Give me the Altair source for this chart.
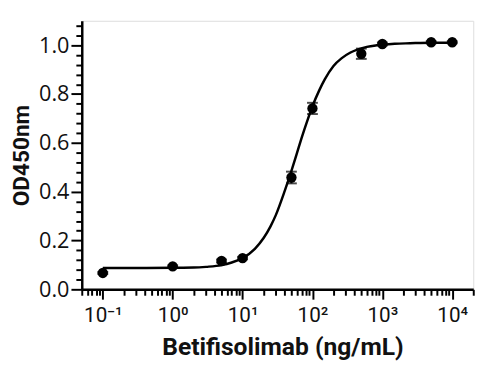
import altair as alt
import pandas as pd

# measured points
conc = [0.1, 1, 5, 10, 50, 100, 500, 1000, 5000, 10000]
od = [0.067, 0.094, 0.116, 0.128, 0.458, 0.741, 0.965, 1.005, 1.012, 1.012]
sd = [0.004, 0.004, 0.006, 0.005, 0.024, 0.023, 0.021, 0.006, 0.004, 0.004]

# fitted curve
curve_x = [0.1, 0.3, 1, 2, 3, 5, 7, 10, 15, 20, 25, 30, 40, 50, 60, 70, 85, 100,
           125, 150, 200, 260, 350, 450, 600, 800, 1000, 1500, 2500, 5000, 10000]
curve_y = [0.087, 0.087, 0.088, 0.089, 0.092, 0.099, 0.110, 0.128, 0.166, 0.210,
           0.257, 0.305, 0.402, 0.485, 0.558, 0.620, 0.693, 0.750, 0.815, 0.860,
           0.915, 0.946, 0.970, 0.983, 0.993, 0.999, 1.002, 1.006, 1.008, 1.010, 1.010]

# axis ticks
x_major = [0.1, 1, 10, 100, 1000, 10000]
x_labels = ["10\u207b\u00b9", "10\u2070", "10\u00b9", "10\u00b2", "10\u00b3", "10\u2074"]
x_minor = [0.05, 0.06, 0.07, 0.08, 0.09,
           0.2, 0.3, 0.4, 0.5, 0.6, 0.7, 0.8, 0.9,
           2, 3, 4, 5, 6, 7, 8, 9,
           20, 30, 40, 50, 60, 70, 80, 90,
           200, 300, 400, 500, 600, 700, 800, 900,
           2000, 3000, 4000, 5000, 6000, 7000, 8000, 9000, 20000]
y_major = [0.0, 0.2, 0.4, 0.6, 0.8, 1.0]
y_minor = [0.04, 0.08, 0.12, 0.16, 0.24, 0.28, 0.32, 0.36, 0.44, 0.48, 0.52, 0.56,
           0.64, 0.68, 0.72, 0.76, 0.84, 0.88, 0.92, 0.96, 1.04, 1.08]

pts = pd.DataFrame({"x": conc, "y": od, "lo": [a - b for a, b in zip(od, sd)],
                    "hi": [a + b for a, b in zip(od, sd)]})
fit = pd.DataFrame({"x": curve_x, "y": curve_y})

x_expr = " : ".join(f"datum.value == {v} ? '{l}'" for v, l in zip(x_major, x_labels)) + " : ''"

xscale = alt.Scale(type="log", domain=[0.05, 20000], nice=False)
yscale = alt.Scale(domain=[0, 1.1], nice=False, zero=False)

common = dict(tickWidth=2, tickColor="black", domainColor="black", grid=False,
              labelOverlap=False, labelBound=False, labelFlush=False)

x_main = alt.Axis(
    orient="bottom", values=x_major, labelExpr=x_expr, tickSize=10,
    domainWidth=2.5, labelFont="Roboto", labelFontSize=21, labelColor="#111",
    labelPadding=6, title="Betifisolimab (ng/mL)", titleFont="Roboto",
    titleFontSize=25, titleFontWeight="bold", titleColor="#111", titlePadding=9,
    titleX=204, **common)
y_main = alt.Axis(
    orient="left", values=y_major, format=".1f", tickSize=11, domainWidth=2.5,
    labelFont="Open Sans", labelFontSize=22, labelColor="#111", labelPadding=2,
    title="OD450nm", titleFont="Roboto", titleFontSize=23, titleFontWeight="bold",
    titleColor="#111", titlePadding=5, **common)
x_min = alt.Axis(orient="bottom", values=x_minor, tickSize=6, labels=False,
                 domain=False, title=None, **common)
y_min = alt.Axis(orient="left", values=y_minor, tickSize=6, labels=False,
                 domain=False, title=None, **common)

line = alt.Chart(fit).mark_line(color="black", strokeWidth=2.5, interpolate="monotone").encode(
    x=alt.X("x:Q", scale=xscale, axis=x_main),
    y=alt.Y("y:Q", scale=yscale, axis=y_main),
)
minor = alt.Chart(fit).mark_line(opacity=0).encode(
    x=alt.X("x:Q", scale=xscale, axis=x_min),
    y=alt.Y("y:Q", scale=yscale, axis=y_min),
)
bars = alt.Chart(pts).mark_rule(color="black", strokeWidth=2).encode(
    x=alt.X("x:Q", axis=None), y=alt.Y("lo:Q", axis=None), y2="hi:Q")
cap_lo = alt.Chart(pts).mark_tick(color="black", thickness=2, size=11, orient="horizontal").encode(
    x=alt.X("x:Q", axis=None), y=alt.Y("lo:Q", axis=None))
cap_hi = alt.Chart(pts).mark_tick(color="black", thickness=2, size=11, orient="horizontal").encode(
    x=alt.X("x:Q", axis=None), y=alt.Y("hi:Q", axis=None))
dots = alt.Chart(pts).mark_circle(color="black", size=110, opacity=1).encode(
    x=alt.X("x:Q", axis=None), y=alt.Y("y:Q", axis=None))

chart = alt.layer(minor, line, bars, cap_lo, cap_hi, dots).resolve_axis(
    x="independent", y="independent"
).properties(
    width=398, height=273,
    autosize=alt.AutoSizeParams(type="none"),
    padding={"left": 75, "top": 10, "right": 16, "bottom": 78},
).configure_view(stroke=None).configure(background="white")

chart.save("out.html", embed_options={"renderer": "svg", "actions": False})
